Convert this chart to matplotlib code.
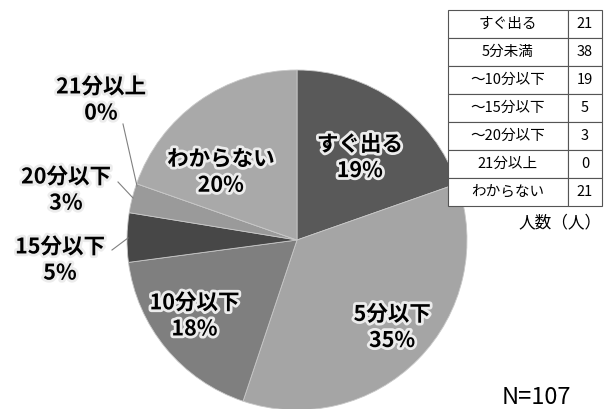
import matplotlib
matplotlib.use("Agg")
import matplotlib.pyplot as plt
import matplotlib.patheffects as pe
import numpy as np

plt.rcParams['font.family'] = ['Noto Sans CJK JP', 'DejaVu Sans']

# Survey data
table_labels = ["すぐ出る", "5分未満", "～10分以下", "～15分以下", "～20分以下", "21分以上", "わからない"]
counts = [21, 38, 19, 5, 3, 0, 21]
pie_labels = ["すぐ出る", "5分以下", "10分以下", "15分以下", "20分以下", "21分以上", "わからない"]
pct_labels = ["19%", "35%", "18%", "5%", "3%", "0%", "20%"]
colors = ["#595959", "#a5a5a5", "#7f7f7f", "#474747", "#9a9a9a", "#b0b0b0", "#a9a9a9"]
n_total = sum(counts)

W, H = 606, 409
fig = plt.figure(figsize=(W / 100, H / 100), dpi=100)
fig.patch.set_facecolor("white")

# Pie axes: centre (297, 240) px, radius 170 px
cx, cy, r = 297, 240, 170
ax = fig.add_axes([(cx - r) / W, (H - cy - r) / H, 2 * r / W, 2 * r / H])

wedges, _ = ax.pie(counts, colors=colors, startangle=90, counterclock=False,
                   radius=1, wedgeprops=dict(edgecolor="#c8c8c8", linewidth=0.6))
ax.set_xlim(-1, 1)
ax.set_ylim(-1, 1)
ax.set_aspect("equal")
ax.axis("off")
for w in wedges:
    w.set_clip_on(False)

halo = [pe.withStroke(linewidth=4, foreground="#ececec")]
txt_kw = dict(fontsize=15.5, fontweight="bold", ha="center", va="center",
              color="black", path_effects=halo, linespacing=1.3)

# Inside labels: (radius factor, angle offset in degrees)
inside = {0: (0.61, -2), 1: (0.76, 2), 2: (0.75, -3), 6: (0.60, 13)}
# Outside labels: text centre in pixels and leader line end points in pixels
outside = {
    3: ((60, 260), (112, 250), (128, 238)),
    4: ((66, 190), (118, 182), (133, 198)),
    5: ((101, 100), (123, 124), (137, 186)),
}


def px(x, y):
    return ((x - cx) / r, (cy - y) / r)


for i, w in enumerate(wedges):
    text = f"{pie_labels[i]}\n{pct_labels[i]}"
    if i in inside:
        rf, off = inside[i]
        ang = np.deg2rad((w.theta1 + w.theta2) / 2 + off)
        ax.text(rf * np.cos(ang), rf * np.sin(ang), text, **txt_kw)
    else:
        (tx, ty), (x0, y0), (x1, y1) = outside[i]
        ax.plot(*zip(px(x0, y0), px(x1, y1)), color="#808080", lw=0.8, clip_on=False)
        ax.text(*px(tx, ty), text, clip_on=False, **txt_kw)

# Count table in the upper right
tax = fig.add_axes([448 / W, (H - 206) / H, 154 / W, 196 / H])
tax.axis("off")
tbl = tax.table(cellText=[[l, str(c)] for l, c in zip(table_labels, counts)],
                colWidths=[120 / 154, 34 / 154], cellLoc="center", bbox=[0, 0, 1, 1])
tbl.auto_set_font_size(False)
for (row, col), cell in tbl.get_celld().items():
    cell.set_edgecolor("#555555")
    cell.set_linewidth(0.8)
    cell.get_text().set_fontsize(10.5)

fig.text(560 / W, 1 - 223 / H, "人数（人）", fontsize=12, ha="center", va="center")
fig.text(536 / W, 1 - 398 / H, f"N={n_total}", fontsize=17, ha="center", va="center")

fig.savefig("out.png", dpi=100, facecolor="white")
